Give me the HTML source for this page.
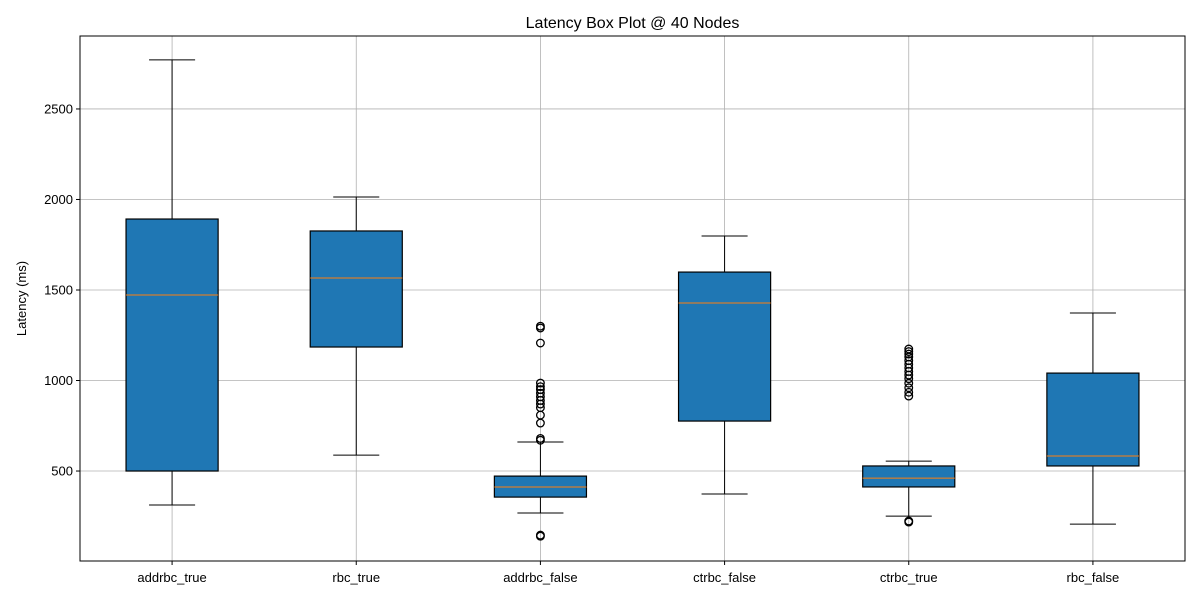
<!DOCTYPE html>
<html><head><meta charset="utf-8"><style>
body{margin:0;background:#fff}
svg{display:block;font-family:"Liberation Sans","DejaVu Sans",sans-serif}
</style></head><body>
<svg id="chart" width="1200" height="600"></svg>
<script>
const categories=["addrbc_true","rbc_true","addrbc_false","ctrbc_false","ctrbc_true","rbc_false"];
const whiskerLow=[312,588,268,373,251,207];
const q1=[500,1185,356,776,412,528];
const medians=[1472,1566,412,1428,461,583];
const q3=[1892,1826,472,1599,528,1041];
const whiskerHigh=[2771,2014,660,1798,555,1373];
const outliers=[[],[],[146,140,1300,1290,1207,986,966,950,930,910,890,870,850,809,765,680,670],[],[224,218,1174,1160,1146,1130,1110,1090,1070,1050,1030,1010,985,960,935,914],[]];
const yTicks=[500,1000,1500,2000,2500];
const L=80,R=1185,T=36,B=561,Y0=3,Y1=2903;
const NS="http://www.w3.org/2000/svg";
const svg=document.getElementById('chart');
function y(v){return B-(v-Y0)/(Y1-Y0)*(B-T);}
function x(i){return L+(i+0.5)*(R-L)/categories.length;}
function mk(t,a,p){const e=document.createElementNS(NS,t);for(const k in a)e.setAttribute(k,a[k]);(p||svg).appendChild(e);return e;}
const grid=mk('g',{});


yTicks.forEach(v=>{mk('line',{x1:L,x2:R,y1:y(v),y2:y(v),stroke:'#b0b0b0','stroke-width':0.8},grid);
 mk('line',{x1:L-4,x2:L,y1:y(v),y2:y(v),stroke:'#000'},grid);
 const t=mk('text',{x:L-7,y:y(v)+4.5,'text-anchor':'end','font-size':13},grid);t.textContent=v;
 
 });
categories.forEach((c,i)=>{mk('line',{x1:x(i),x2:x(i),y1:T,y2:B,stroke:'#b0b0b0','stroke-width':0.8},grid);
 mk('line',{x1:x(i),x2:x(i),y1:B,y2:B+4,stroke:'#000'},grid);
 const t=mk('text',{x:x(i),y:B+21,'text-anchor':'middle','font-size':13},grid);t.textContent=c;
 
 });
const hw=(R-L)/categories.length/4, cw=hw/2;
categories.forEach((c,i)=>{
 const g=mk('g',{});
 
 
 const cx=x(i);
 mk('line',{x1:cx,x2:cx,y1:y(q3[i]),y2:y(whiskerHigh[i]),stroke:'#000','stroke-width':1},g);
 mk('line',{x1:cx,x2:cx,y1:y(q1[i]),y2:y(whiskerLow[i]),stroke:'#000','stroke-width':1},g);
 mk('line',{x1:cx-cw,x2:cx+cw,y1:y(whiskerHigh[i]),y2:y(whiskerHigh[i]),stroke:'#000','stroke-width':1},g);
 mk('line',{x1:cx-cw,x2:cx+cw,y1:y(whiskerLow[i]),y2:y(whiskerLow[i]),stroke:'#000','stroke-width':1},g);
 mk('rect',{x:cx-hw,y:y(q3[i]),width:2*hw,height:y(q1[i])-y(q3[i]),fill:'#1f77b4',stroke:'#000','stroke-width':1.2},g);
 mk('line',{x1:cx-hw,x2:cx+hw,y1:y(medians[i]),y2:y(medians[i]),stroke:'#ff7f0e','stroke-width':1},g);
 outliers[i].forEach(v=>mk('circle',{cx:cx,cy:y(v),r:3.8,fill:'none',stroke:'#000','stroke-width':1.3},g));
});
mk('rect',{x:L,y:T,width:R-L,height:B-T,fill:'none',stroke:'#000','stroke-width':1});
const title=mk('text',{x:(L+R)/2,y:28,'text-anchor':'middle','font-size':16});title.textContent='Latency Box Plot @ 40 Nodes';


const yl=mk('text',{x:0,y:0,'text-anchor':'middle','font-size':13,transform:'translate(26,'+((T+B)/2)+') rotate(-90)'});yl.textContent='Latency (ms)';


</script>
</body></html>
